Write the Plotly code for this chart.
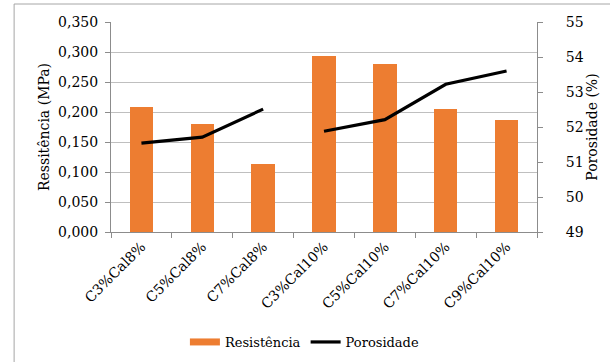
import plotly.graph_objects as go

categories = ["C3%Cal8%", "C5%Cal8%", "C7%Cal8%", "C3%Cal10%",
              "C5%Cal10%", "C7%Cal10%", "C9%Cal10%"]
resistencia = [0.209, 0.180, 0.114, 0.294, 0.280, 0.205, 0.187]
porosidade = [51.54, 51.71, 52.51, 51.88, 52.21, 53.22, 53.60]
# the porosity line is drawn in two runs: Cal8% and Cal10%
grupo_cal8 = 3

ORANGE = "#ED7D31"
FAMILY = "DejaVu Serif"
FONT = dict(family=FAMILY, size=14, color="#000000")
LEG_FONT = dict(family=FAMILY, size=13, color="#000000")
GRID = "#bfbfbf"
AXIS = "#8c8c8c"

fig = go.Figure()

fig.add_trace(go.Bar(
    x=categories, y=resistencia, name="Resistência",
    marker=dict(color=ORANGE, line=dict(width=0)),
    width=0.385, showlegend=False, legendgroup="res",
))
# legend entry drawn as a wide orange block
fig.add_trace(go.Scatter(
    x=[None], y=[None], mode="lines", name="Resistência",
    line=dict(color=ORANGE, width=7), legendgroup="res",
))
fig.add_trace(go.Scatter(
    x=categories[:grupo_cal8], y=porosidade[:grupo_cal8], yaxis="y2",
    mode="lines", name="Porosidade", line=dict(color="#000000", width=3.2),
    legendgroup="por",
))
fig.add_trace(go.Scatter(
    x=categories[grupo_cal8:], y=porosidade[grupo_cal8:], yaxis="y2",
    mode="lines", name="Porosidade", line=dict(color="#000000", width=3.2),
    legendgroup="por", showlegend=False,
))

# plot-area geometry in pixels
L, R, T, B = 111, 72.5, 22, 130
W, H = 610 - L - R, 362 - T - B

def px_x(p):
    return (p - L) / W

def px_y(p):
    return (362 - B - p) / H

fig.update_layout(
    width=610, height=362,
    margin=dict(l=L, r=R, t=T, b=B, autoexpand=False),
    paper_bgcolor="white", plot_bgcolor="white",
    font=FONT, separators=",.",
    bargap=0,
    xaxis=dict(
        type="category", categoryorder="array", categoryarray=categories,
        range=[-0.5, len(categories) - 0.5],
        tickangle=-45, tickson="boundaries", ticks="outside", ticklen=5,
        tickcolor=AXIS, showline=True, linecolor=AXIS, linewidth=1,
        showgrid=False, tickfont=FONT,
    ),
    yaxis=dict(
        range=[0, 0.35], dtick=0.05, tickformat=".3f",
        ticks="outside", ticklen=5, tickcolor=AXIS,
        showline=True, linecolor=AXIS, linewidth=1,
        showgrid=True, gridcolor=GRID, gridwidth=1, zeroline=False,
        ticklabelstandoff=4, tickfont=FONT,
        title=dict(text="Ressitência (MPa)", font=FONT, standoff=5),
    ),
    yaxis2=dict(
        overlaying="y", side="right", range=[49, 55], dtick=1,
        ticks="outside", ticklen=5, tickcolor=AXIS,
        showline=True, linecolor=AXIS, linewidth=1,
        showgrid=False, zeroline=False,
        ticklabelstandoff=20, tickfont=FONT,
        title=dict(text="Porosidade (%)", font=FONT, standoff=1),
    ),
    legend=dict(
        orientation="h", x=px_x(185), xanchor="left",
        y=px_y(342), yanchor="middle",
        font=LEG_FONT, bgcolor="rgba(0,0,0,0)",
        tracegroupgap=0, itemwidth=30,
    ),
    shapes=[dict(
        type="rect", xref="paper", yref="paper",
        x0=px_x(14), x1=px_x(640), y0=px_y(400), y1=px_y(4),
        line=dict(color="#a6a6a6", width=1), fillcolor="rgba(0,0,0,0)",
        layer="below",
    )],
)

fig.write_html("out.html")
